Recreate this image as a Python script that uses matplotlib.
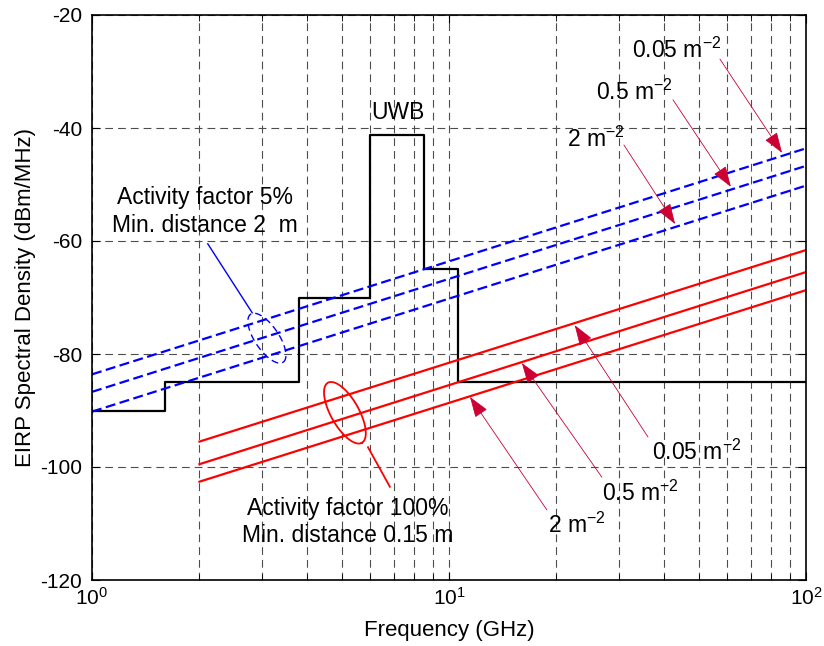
import numpy as np
import matplotlib
matplotlib.use('Agg')
from matplotlib import pyplot as plt

plt.rcParams['font.family'] = ['Liberation Sans', 'DejaVu Sans']
plt.rcParams['mathtext.fontset'] = 'custom'
plt.rcParams['mathtext.rm'] = 'Liberation Sans'
plt.rcParams['mathtext.it'] = 'Liberation Sans:italic'
plt.rcParams['mathtext.bf'] = 'Liberation Sans:bold'
plt.rcParams['axes.unicode_minus'] = False

# UWB emission mask (step, value holds until next frequency)
mask_freq = [1, 1.6, 3.8, 6.0, 8.5, 10.6, 100]
mask_level = [-90, -85, -70, -41.3, -65, -85, -85]

# activity factor 5%, min. distance 2 m (dashed blue)
blue_freq = [1, 100]
blue_levels = [[-83.6, -43.6], [-86.7, -46.7], [-90.2, -50.2]]

# activity factor 100%, min. distance 0.15 m (solid red)
red_freq = [2, 100]
red_levels = [[-95.5, -61.6], [-99.5, -65.5], [-102.6, -68.7]]

densities = ['0.05', '0.5', '2']

# arrow labels: (text pos, arrow tail, arrow head) in data coords
top_text = [(32.6, -27.6), (25.8, -35.0), (21.4, -43.4)]
top_tail = [(57.4, -27.8), (42.4, -35.0), (30.9, -43.0)]
top_head = [(85.7, -44.4), (61.6, -50.4), (43.0, -57.0)]
low_text = [(37.0, -98.8), (26.8, -106.0), (18.9, -111.7)]
low_tail = [(36.1, -94.7), (26.8, -101.8), (18.8, -107.6)]
low_head = [(22.5, -74.9), (16.0, -81.6), (11.45, -87.6)]

arrow_color = '#cc0033'

fig = plt.figure(figsize=(8.24, 6.46), dpi=100)
ax = fig.add_axes([92 / 824, 1 - 580 / 646, 714 / 824, 565 / 646])
ax.set_xscale('log')
ax.set_xlim(1, 100)
ax.set_ylim(-120, -20)
ax.set_yticks(range(-120, -19, 20))

ax.set_axisbelow(True)
grid_kw = dict(color='0.3', linestyle=(0, (7, 4.5)), linewidth=0.8)
ax.grid(True, which='major', axis='y', **grid_kw)
ax.grid(True, which='both', axis='x', **grid_kw)

ax.step(mask_freq, mask_level, where='post', color='black', lw=1.6)
for lev in blue_levels:
    ax.plot(blue_freq, lev, color='#0000ff', lw=1.6, linestyle=(0, (4.5, 2)))
for lev in red_levels:
    ax.plot(red_freq, lev, color='#ff0000', lw=1.6)


def ellipse(fx, fy, a, b, ang, **kw):
    # ellipse drawn in screen pixels so it is not distorted by the log axis
    c = ax.transData.transform((fx, fy))
    t = np.linspace(0, 2 * np.pi, 200)
    th = np.radians(ang)
    px = c[0] + a * np.cos(t) * np.cos(th) - b * np.sin(t) * np.sin(th)
    py = c[1] + a * np.cos(t) * np.sin(th) + b * np.sin(t) * np.cos(th)
    pts = ax.transData.inverted().transform(np.column_stack([px, py]))
    ax.plot(pts[:, 0], pts[:, 1], **kw)


ellipse(3.09, -77.2, 29, 12, -56, color='#0000ff', lw=1.0, linestyle=(0, (5, 3)))
ellipse(5.11, -90.4, 34.5, 14, -60.5, color='#ff0000', lw=1.3)
ax.plot([2.11, 2.81], [-60.5, -72.7], color='#0000ff', lw=1.0)
ax.plot([5.93, 6.83], [-96.5, -103.5], color='#ff0000', lw=1.3)

fs = 16.5
ax.text(7.2, -38.4, 'UWB', ha='center', va='baseline', fontsize=fs)
ax.text(2.07, -53.5, 'Activity factor 5%', ha='center', va='baseline', fontsize=fs)
ax.text(2.07, -58.4, 'Min. distance 2  m', ha='center', va='baseline', fontsize=fs)
ax.text(5.21, -108.5, 'Activity factor 100%', ha='center', va='baseline', fontsize=fs)
ax.text(5.21, -113.3, 'Min. distance 0.15 m', ha='center', va='baseline', fontsize=fs)

arrowprops = dict(arrowstyle='-|>,head_length=1.3,head_width=0.45', color=arrow_color,
                  lw=0.6, shrinkA=0, shrinkB=0, mutation_scale=10)
for d, tp, tl, hd in zip(densities, top_text, top_tail, top_head):
    ax.text(tp[0], tp[1], d + r' m$^{-2}$', ha='left', va='baseline', fontsize=fs)
    ax.annotate('', xy=hd, xytext=tl, arrowprops=arrowprops)
for d, tp, tl, hd in zip(densities, low_text, low_tail, low_head):
    ax.text(tp[0], tp[1], d + r' m$^{-2}$', ha='left', va='baseline', fontsize=fs)
    ax.annotate('', xy=hd, xytext=tl, arrowprops=arrowprops)

ax.tick_params(which='both', direction='in', top=True, right=True, labelsize=15, pad=7)
ax.tick_params(which='major', length=6)
ax.tick_params(which='minor', length=4)
ax.tick_params(axis='x', pad=5)
for s in ax.spines.values():
    s.set_linewidth(1.2)

ax.set_xlabel('Frequency (GHz)', fontsize=16, labelpad=8)
ax.set_ylabel('EIRP Spectral Density (dBm/MHz)', fontsize=16, labelpad=3)

fig.savefig('out.png', dpi=100)
